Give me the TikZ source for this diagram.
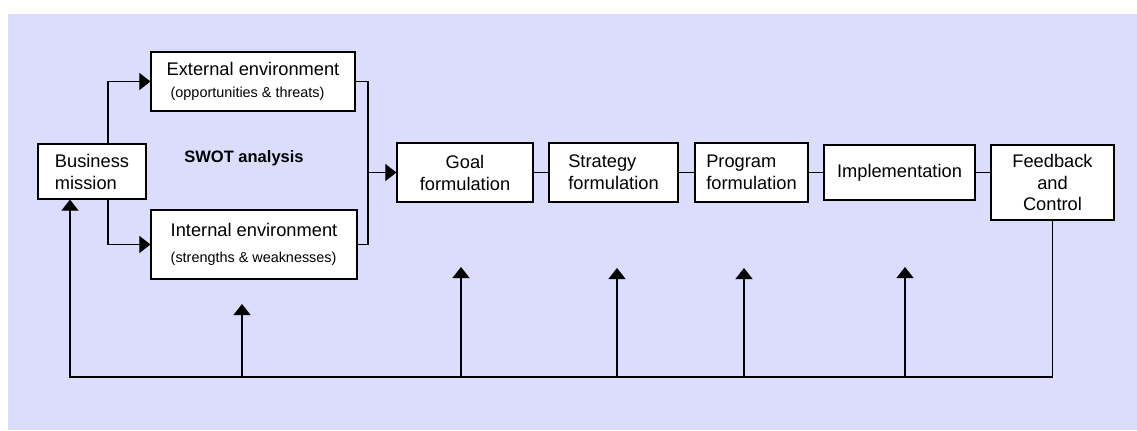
\documentclass[tikz,border=0pt]{standalone}
\usepackage{fontspec}
\setmainfont{Liberation Sans}
\usetikzlibrary{arrows.meta, positioning, calc}
\definecolor{fondo}{RGB}{220,220,252}
\newcommand{\chico}{\fontsize{8.2}{10}\selectfont}

\begin{document}
\begin{tikzpicture}[
		x=0.02cm, y=-0.02cm,
		font=\fontsize{10.4}{12.5}\selectfont,
		caja/.style={
			rectangle,
			draw,
			line width=0.7pt,
			fill=white,
			inner sep=0pt,
			minimum height=11.8mm,
			align=center
		},
		fl/.style={
			line width=0.6pt,
			-{Triangle[length=2.2mm, width=3.4mm]}
		},
		ln/.style={
			line width=0.6pt
		}
		]
		
		\useasboundingbox (0,0) rectangle (1137,430);
		\fill[fondo] (8,14) rectangle (1137,430);
		
		% Mision y analisis SWOT
		\node[caja, align=left, minimum width=21.6mm, minimum height=11mm] (mission) at (92,171.5)
		{Business\\mission};
		
		\node[caja, align=left, minimum width=40.8mm] (ext) at (253,81.5)
		{External environment\\
			{\chico\ (opportunities \& threats)}};
		
		\node[caja, align=left, minimum width=41.2mm, minimum height=13.8mm] (int) at (254,244.5)
		{Internal environment\\[2pt]
			{\chico (strengths \& weaknesses)}};
		
		\node[font=\fontsize{9.4}{11}\selectfont\bfseries] (swot) at (244,158)
		{SWOT analysis};
		
		\coordinate (br) at (108,171.5);
		\coordinate (jn) at (368,172.5);
		
		\draw[fl] (br |- mission.north) |- (ext.west);
		\draw[fl] (br |- mission.south) |- (int.west);
		\draw[ln] (ext.east) -| (jn);
		\draw[ln] (int.east) -| (jn);
		
		% Formulacion
		\node[caja, minimum width=27.2mm] (goal) at (465,172.5)
		{Goal\\formulation};
		
		\node[caja, align=left, minimum width=25.8mm] (strat) at (613.5,172.5)
		{Strategy\\formulation};
		
		\node[caja, align=left, minimum width=22.6mm] (prog) at (751.5,172.5)
		{Program\\formulation};
		
		\node[caja, minimum width=30.2mm, minimum height=11mm] (impl) at (899.5,172.5)
		{Implementation};
		
		\node[caja, minimum width=24.6mm, minimum height=15mm] (fb) at (1052.5,182.5)
		{Feedback\\and\\Control};
		
		\draw[fl] (jn) -- (goal.west);
		\draw[ln] (goal.east) -- (strat.west);
		\draw[ln] (strat.east) -- (prog.west);
		\draw[ln] (prog.east) -- (impl.west);
		\draw[ln] (impl.east) -- (impl.east -| fb.west);
		
		% Retroalimentacion
		\coordinate (ret) at (70,377);
		
		\draw[fl] (fb.south) |- (ret) -- (ret |- mission.south);
		
		\foreach \px/\py in {242/304, 461/267, 617/268, 744/268, 905/267}
		\draw[fl] (\px,377) -- (\px,\py);
		
	\end{tikzpicture}
\end{document}
